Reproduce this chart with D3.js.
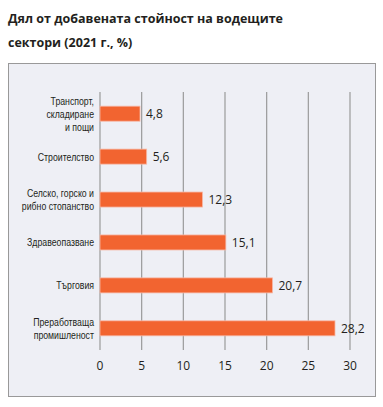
<!DOCTYPE html>
<html><head><meta charset="utf-8">
<script src="https://cdn.jsdelivr.net/npm/d3@7"></script>
<style>body{margin:0;background:#fff;}svg{display:block;}</style>
</head><body>
<svg id="c" width="383" height="407"></svg>
<script>
const categories = [
  ["Транспорт,", "складиране", "и пощи"],
  ["Строителство"],
  ["Селско, горско и", "рибно стопанство"],
  ["Здравеопазване"],
  ["Търговия"],
  ["Преработваща", "промишленост"]
];
const values = [4.8, 5.6, 12.3, 15.1, 20.7, 28.2];
const valueLabels = ["4,8", "5,6", "12,3", "15,1", "20,7", "28,2"];
const ticks = [0, 5, 10, 15, 20, 25, 30];
const titleLines = ["Дял от добавената стойност на водещите", "сектори (2021 г., %)"];

const svg = d3.select("#c");
const titleFont = "'Open Sans', 'Noto Sans', sans-serif";
const narrow = "'Liberation Sans', sans-serif";

svg.selectAll("text.title").data(titleLines).join("text")
  .attr("class","title")
  .attr("x", 8).attr("y", (d,i)=>23 + i*24)
  .attr("font-family", titleFont).attr("font-weight", 700)
  .attr("font-size", 12.5).attr("fill", "#231f20").text(d=>d);

svg.append("rect").attr("x", 8.5).attr("y", 63.5).attr("width", 367).attr("height", 333)
  .attr("fill", "#eeeff5").attr("stroke", "#999").attr("stroke-width", 1);

const x = d3.scaleLinear().domain([0,30]).range([100,350]);
const y = d3.scaleBand().domain(d3.range(values.length)).range([92,350]).paddingInner(0.65).paddingOuter(0.33);

svg.append("g").selectAll("line").data(ticks).join("line")
  .attr("x1", d=>x(d)).attr("x2", d=>x(d)).attr("y1", 92).attr("y2", 350)
  .attr("stroke", "#9a9a9a").attr("stroke-width", 1.2);

svg.append("g").selectAll("rect").data(values).join("rect")
  .attr("x", x(0)).attr("y", (d,i)=>y(i)).attr("width", d=>x(d)-x(0)).attr("height", y.bandwidth())
  .attr("fill", "#f26430").attr("stroke", "#f7b8a6").attr("stroke-width", 0.8);

svg.append("g").selectAll("text").data(values).join("text")
  .attr("x", d=>x(d)+6).attr("y", (d,i)=>y(i)+y.bandwidth()/2).attr("dy","0.35em")
  .attr("font-family", titleFont).attr("font-size", 12).attr("fill", "#231f20")
  .text((d,i)=>valueLabels[i]);

const lab = svg.append("g");
categories.forEach((lines,i)=>{
  const cy = y(i)+y.bandwidth()/2;
  const lh = 13;
  const t = lab.append("text").attr("text-anchor","end")
    .attr("transform", `translate(94,0) scale(0.76,1)`)
    .attr("font-family", narrow).attr("font-size", 11.5).attr("fill","#231f20");
  lines.forEach((l,j)=>{
    t.append("tspan").attr("x", 0).attr("y", cy + (j - (lines.length-1)/2)*lh).attr("dy","0.35em").text(l);
  });
});

svg.append("g").selectAll("text").data(ticks).join("text")
  .attr("x", d=>x(d)).attr("y", 366).attr("dy","0.35em").attr("text-anchor","middle")
  .attr("font-family", titleFont).attr("font-size", 12).attr("fill","#231f20").text(d=>d);
</script>
</body></html>
